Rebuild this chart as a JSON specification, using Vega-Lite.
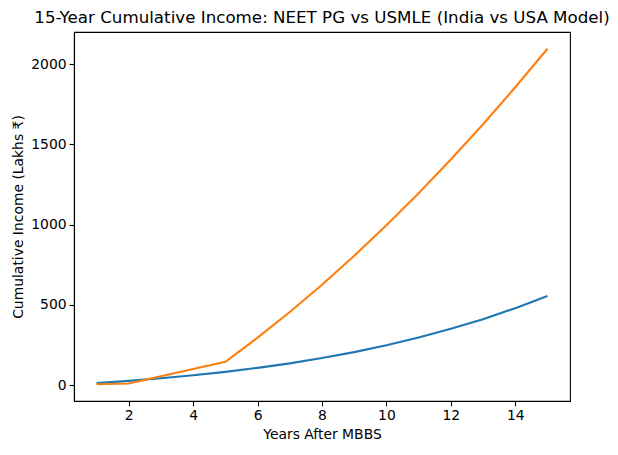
{
  "$schema": "https://vega.github.io/schema/vega-lite/v6.json",
  "width": 496,
  "height": 369,
  "autosize": {"type": "none"},
  "padding": {"left": 74, "top": 32, "right": 48, "bottom": 54},
  "background": "white",
  "config": {
    "view": {"stroke": "black", "strokeWidth": 1.1},
    "font": "DejaVu Sans",
    "axis": {
      "grid": false,
      "domainColor": "black",
      "domainWidth": 1.1,
      "tickColor": "black",
      "tickWidth": 1.1,
      "tickSize": 4.9,
      "labelPadding": 3,
      "labelFont": "DejaVu Sans",
      "labelFontSize": 13.9,
      "labelColor": "black",
      "titleFont": "DejaVu Sans",
      "titleFontSize": 13.9,
      "titleFontWeight": "normal",
      "titleColor": "black",
      "titlePadding": 5
    }
  },
  "title": {
    "text": "15-Year Cumulative Income: NEET PG vs USMLE (India vs USA Model)",
    "font": "DejaVu Sans",
    "fontSize": 16.7,
    "fontWeight": "normal",
    "color": "black",
    "anchor": "middle",
    "offset": 5
  },
  "data": {
    "values": [
      {"year": 1, "series": "NEET PG (India)", "income": 12},
      {"year": 2, "series": "NEET PG (India)", "income": 25.8},
      {"year": 3, "series": "NEET PG (India)", "income": 42},
      {"year": 4, "series": "NEET PG (India)", "income": 61},
      {"year": 5, "series": "NEET PG (India)", "income": 82},
      {"year": 6, "series": "NEET PG (India)", "income": 107},
      {"year": 7, "series": "NEET PG (India)", "income": 135},
      {"year": 8, "series": "NEET PG (India)", "income": 168},
      {"year": 9, "series": "NEET PG (India)", "income": 205},
      {"year": 10, "series": "NEET PG (India)", "income": 248},
      {"year": 11, "series": "NEET PG (India)", "income": 296},
      {"year": 12, "series": "NEET PG (India)", "income": 350},
      {"year": 13, "series": "NEET PG (India)", "income": 410},
      {"year": 14, "series": "NEET PG (India)", "income": 479},
      {"year": 15, "series": "NEET PG (India)", "income": 555},
      {"year": 1, "series": "USMLE (USA)", "income": 5},
      {"year": 2, "series": "USMLE (USA)", "income": 10},
      {"year": 3, "series": "USMLE (USA)", "income": 55},
      {"year": 4, "series": "USMLE (USA)", "income": 100},
      {"year": 5, "series": "USMLE (USA)", "income": 145},
      {"year": 6, "series": "USMLE (USA)", "income": 295},
      {"year": 7, "series": "USMLE (USA)", "income": 455},
      {"year": 8, "series": "USMLE (USA)", "income": 625},
      {"year": 9, "series": "USMLE (USA)", "income": 805},
      {"year": 10, "series": "USMLE (USA)", "income": 995},
      {"year": 11, "series": "USMLE (USA)", "income": 1195},
      {"year": 12, "series": "USMLE (USA)", "income": 1405},
      {"year": 13, "series": "USMLE (USA)", "income": 1625},
      {"year": 14, "series": "USMLE (USA)", "income": 1855},
      {"year": 15, "series": "USMLE (USA)", "income": 2095}
    ]
  },
  "mark": {"type": "line", "strokeWidth": 2.1},
  "encoding": {
    "x": {
      "field": "year",
      "type": "quantitative",
      "title": "Years After MBBS",
      "scale": {"domain": [0.3, 15.7], "nice": false, "zero": false},
      "axis": {"values": [2, 4, 6, 8, 10, 12, 14], "format": "d"}
    },
    "y": {
      "field": "income",
      "type": "quantitative",
      "title": "Cumulative Income (Lakhs ₹)",
      "scale": {"domain": [-99.5, 2199.5], "nice": false, "zero": false},
      "axis": {"values": [0, 500, 1000, 1500, 2000], "format": "d"}
    },
    "color": {
      "field": "series",
      "type": "nominal",
      "scale": {"domain": ["NEET PG (India)", "USMLE (USA)"], "range": ["#1f77b4", "#ff7f0e"]},
      "legend": null
    }
  }
}
